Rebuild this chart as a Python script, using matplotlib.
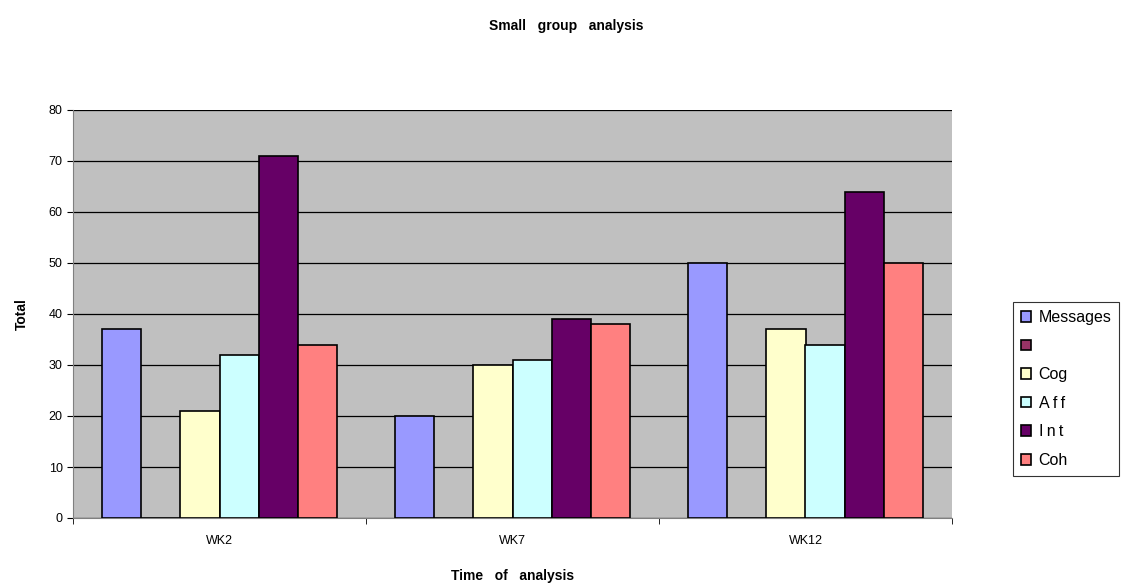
#!/usr/bin/env python3

import numpy as np
import matplotlib
matplotlib.use("Agg")
import matplotlib.pyplot as plt

weeks = ["WK2", "WK7", "WK12"]
series_names = ["Messages", "", "Cog", "A\u2009f\u2009f", "I\u2009n\u2009t", "Coh"]
series_colors = ["#9999FF", "#993366", "#FFFFCC", "#CCFFFF", "#660066", "#FF8080"]

messages = [37, 20, 50]
blank = [0, 0, 0]
cog = [21, 30, 37]
aff = [32, 31, 34]
intr = [71, 39, 64]
coh = [34, 38, 50]

values = [messages, blank, cog, aff, intr, coh]


def main() -> None:
    plt.rcParams["font.family"] = ["Liberation Sans", "DejaVu Sans"]

    fig = plt.figure(figsize=(11.33, 5.88), dpi=100)
    ax = fig.add_axes([73 / 1133, 1 - 518 / 588, (952 - 73) / 1133, (518 - 110) / 588])
    ax.set_facecolor("#C0C0C0")

    x = np.arange(len(weeks))
    n = len(values)
    group_w = 0.8
    w = group_w / n
    handles = []
    for i, (vals, color) in enumerate(zip(values, series_colors)):
        offs = -group_w / 2 + w * (i + 0.5)
        b = ax.bar(x + offs, vals, width=w, color=color, edgecolor="black", linewidth=1.2, zorder=3)
        handles.append(b)

    ax.set_xlim(-0.5, len(weeks) - 0.5)
    ax.set_ylim(0, 80)
    ax.set_yticks(range(0, 81, 10))
    ax.yaxis.grid(True, color="black", linewidth=0.9, zorder=1)
    ax.set_axisbelow(True)

    ax.set_xticks(x)
    ax.set_xticklabels(weeks, fontsize=9)
    ax.tick_params(axis="x", which="major", length=0, pad=12)
    ax.set_xticks(np.arange(-0.5, len(weeks)), minor=True)
    ax.tick_params(axis="x", which="minor", length=4, color="black")
    ax.tick_params(axis="y", labelsize=9, length=4, direction="out")

    for side in ["top", "right"]:
        ax.spines[side].set_visible(False)
    ax.spines["left"].set_color("#808080")
    ax.spines["bottom"].set_color("#808080")

    ax.set_ylabel("Total", fontsize=10, fontweight="bold", labelpad=14)
    ax.set_xlabel("Time   of   analysis", fontsize=10, fontweight="bold", labelpad=16)
    fig.text(0.5, 1 - 26 / 588, "Small   group   analysis", ha="center", va="center",
             fontsize=10, fontweight="bold")

    leg = fig.legend(handles, series_names, loc="upper left",
                     bbox_to_anchor=(1013 / 1133, 1 - 302 / 588),
                     fontsize=11.5, frameon=True, fancybox=False, handlelength=0.65,
                     handleheight=0.65, handletextpad=0.45, labelspacing=0.85,
                     borderpad=0.5, borderaxespad=0)
    leg.get_frame().set_edgecolor("black")
    leg.get_frame().set_linewidth(0.8)

    fig.savefig("out.png", dpi=100)


if __name__ == "__main__":
    main()
